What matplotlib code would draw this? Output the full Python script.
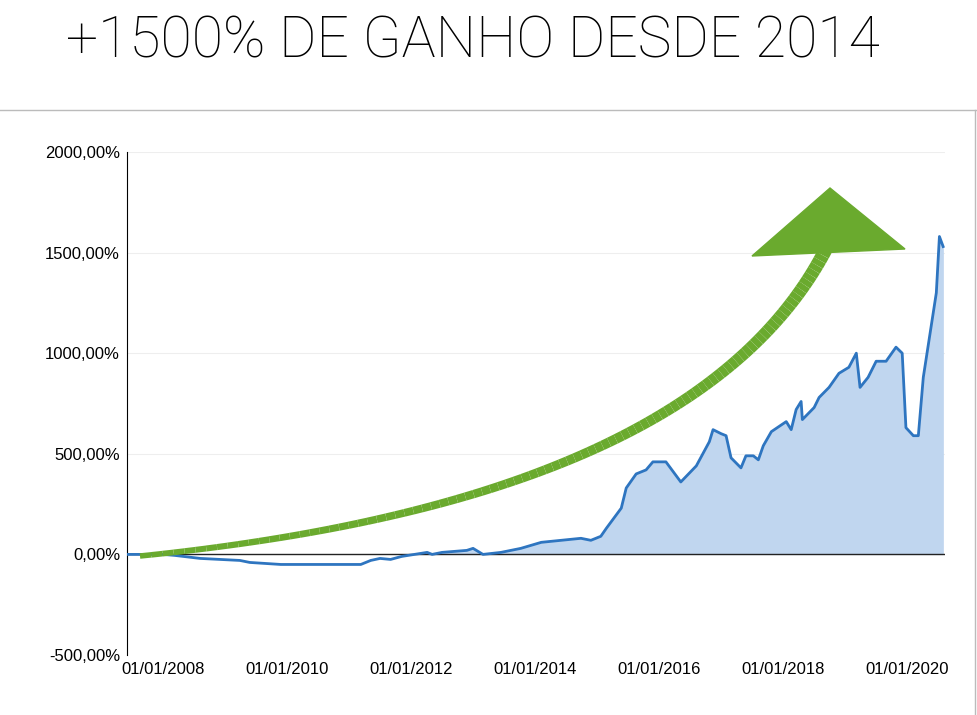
import matplotlib.pyplot as plt
import matplotlib.patches as patches
import numpy as np

plt.rcParams['font.family'] = ['Liberation Sans', 'DejaVu Sans']

# pixel-read data: year (fractional) and cumulative gain in %
years = [2007.42, 2008.0, 2008.19, 2008.6, 2009.24, 2009.4, 2009.9, 2011.19, 2011.35, 2011.5, 2011.67,
         2011.85, 2012.26, 2012.34, 2012.5, 2012.9, 2013.0, 2013.16, 2013.45, 2013.77, 2014.1, 2014.74,
         2014.9, 2015.06, 2015.15, 2015.39, 2015.47, 2015.63, 2015.79, 2015.9, 2016.11, 2016.35, 2016.6,
         2016.81, 2016.87, 2017.0, 2017.08, 2017.16, 2017.32, 2017.4, 2017.52, 2017.6, 2017.68, 2017.81,
         2018.05, 2018.13, 2018.21, 2018.29, 2018.31, 2018.5, 2018.58, 2018.74, 2018.9, 2019.06, 2019.18,
         2019.24, 2019.37, 2019.5, 2019.66, 2019.82, 2019.92, 2019.98, 2020.1, 2020.18, 2020.26, 2020.37,
         2020.47, 2020.52, 2020.58]
gain = [0, 0, -5, -20, -30, -40, -50, -50, -30, -20, -25,
        -10, 10, 0, 10, 20, 30, 0, 10, 30, 60, 80,
        70, 90, 130, 230, 330, 400, 420, 460, 460, 360, 440,
        560, 620, 600, 590, 480, 430, 490, 490, 470, 540, 610,
        660, 620, 720, 760, 670, 730, 780, 830, 900, 930, 1000,
        830, 880, 960, 960, 1030, 1000, 630, 590, 590, 880, 1100,
        1300, 1580, 1530]
tick_years = [2008, 2010, 2012, 2014, 2016, 2018, 2020]
tick_labels = ['01/01/2008', '01/01/2010', '01/01/2012', '01/01/2014',
               '01/01/2016', '01/01/2018', '01/01/2020']
y_ticks = [-500, 0, 500, 1000, 1500, 2000]
y_labels = ['-500,00%', '0,00%', '500,00%', '1000,00%', '1500,00%', '2000,00%']

fig = plt.figure(figsize=(9.78, 7.15), dpi=100)
ax = fig.add_axes([127/978, 60/715, 818/978, 503/715])

fill = ax.fill_between(years, gain, 0, where=np.array(gain) >= 0, interpolate=True,
                       color='#c0d6ef', zorder=1)
for v in [500, 1000, 1500, 2000]:
    ax.axhline(v, color='#eeeeee', lw=0.8, zorder=0.5)
    ln = ax.axhline(v, color='#8aa3bd', lw=1, zorder=2)
    ln.set_clip_path(fill.get_paths()[0], ax.transData)
ax.plot(years, gain, color='#2e75c0', lw=2, zorder=4)
ax.axhline(0, color='#222222', lw=1, zorder=3)

ax.set_xlim(2007.42, 2020.61)
ax.set_ylim(-500, 2000)
ax.set_xticks(tick_years, tick_labels)
ax.set_yticks(y_ticks, y_labels)
ax.tick_params(length=0, labelsize=12, pad=5)
for s in ['top', 'right', 'bottom']:
    ax.spines[s].set_visible(False)
ax.spines['left'].set_color('black')

# green arrow drawn in axes-fraction coordinates
def axf(px, py):
    return ((px - 127) / 818, (655 - py) / 503)

t = np.linspace(0, 1, 100)
p0, p1, p2 = np.array(axf(140, 556)), np.array(axf(700, 500)), np.array(axf(828, 245))
curve = np.outer((1 - t) ** 2, p0) + np.outer(2 * (1 - t) * t, p1) + np.outer(t ** 2, p2)
for i in range(len(t) - 1):
    ax.plot(curve[i:i+2, 0], curve[i:i+2, 1], color='#6aaa2e', lw=4 + 6 * t[i],
            solid_capstyle='butt', transform=ax.transAxes, zorder=5)
head = patches.Polygon([axf(830, 188), axf(752, 256), axf(905, 249)], closed=True,
                       color='#6aaa2e', transform=ax.transAxes, zorder=6)
ax.add_patch(head)

# title and frame lines
fig.text(66/978, 1 - 42/715, '+1500% DE GANHO DESDE 2014', fontsize=41,
         fontweight='light', family='Roboto', color='black', va='center', ha='left')
fig.add_artist(plt.Line2D([0, 1], [1 - 110/715] * 2, color='#bbbbbb', lw=1))
fig.add_artist(plt.Line2D([975/978] * 2, [0, 1 - 110/715], color='#bbbbbb', lw=1))

fig.savefig('out.png', dpi=100)
